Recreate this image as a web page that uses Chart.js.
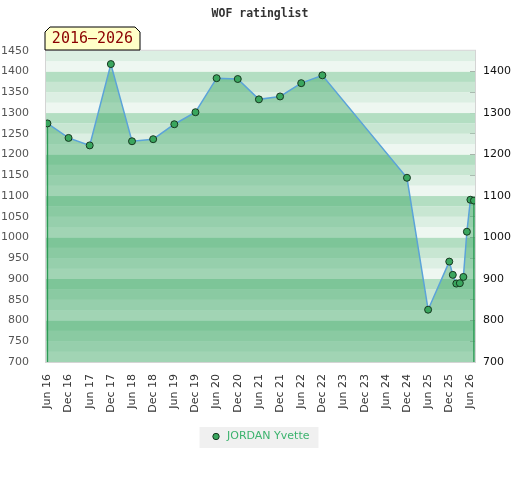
<!DOCTYPE html>
<html>
<head>
<meta charset="utf-8">
<title>WOF ratinglist</title>
<script src="https://cdn.jsdelivr.net/npm/chart.js@4.4.1/dist/chart.umd.min.js"></script>
<style>
  body { margin: 0; background: #fff; }
  canvas { display: block; }
</style>
</head>
<body>
<canvas id="ratingChart" width="520" height="480"></canvas>
<script>
// chart data
const chartTitle = "WOF ratinglist";
const periodLabel = "2016–2026";
const playerName = "JORDAN Yvette";

// x ticks, one every 6 months starting Jun 2016
const tickLabels = ["Jun 16", "Dec 16", "Jun 17", "Dec 17", "Jun 18", "Dec 18", "Jun 19",
  "Dec 19", "Jun 20", "Dec 20", "Jun 21", "Dec 21", "Jun 22", "Dec 22", "Jun 23",
  "Dec 23", "Jun 24", "Dec 24", "Jun 25", "Dec 25", "Jun 26"];

// months since Jun 2016 of every rating list
const months = [0, 6, 12, 18, 24, 30, 36, 42, 48, 54, 60, 66, 72, 78,
  102, 108, 114, 115, 116, 117, 118, 119, 120, 121];
const ratings = [1275, 1240, 1222, 1418, 1232, 1237, 1273, 1302, 1384, 1382, 1333, 1340, 1372, 1391,
  1144, 826, 942, 910, 889, 890, 905, 1014, 1091, 1089];

const leftTicks = [700, 750, 800, 850, 900, 950, 1000, 1050, 1100, 1150, 1200, 1250, 1300, 1350, 1400, 1450];
const rightTicks = [700, 750, 800, 850, 900, 950, 1000, 1050, 1100, 1150, 1200, 1250, 1300, 1350, 1400];

const points = months.map(function (m, i) { return { x: m, y: ratings[i] }; });

const bandColors = ["#eef7f1", "#dcefe3", "#c8e6d2", "#b3dec2"];

// striped green background of the plot
const bandsPlugin = {
  id: "bands",
  beforeDatasetsDraw: function (chart) {
    var ctx = chart.ctx, area = chart.chartArea, ys = chart.scales.y;
    ctx.save();
    for (var v = ys.min; v < ys.max; v += 25) {
      var top = ys.getPixelForValue(v + 25), bottom = ys.getPixelForValue(v);
      ctx.fillStyle = bandColors[((v % 100) / 25) | 0];
      ctx.fillRect(area.left, top, area.right - area.left, bottom - top);
    }
    // edges of the filled area
    var meta = chart.getDatasetMeta(0);
    var first = meta.data[0], last = meta.data[meta.data.length - 1];
    ctx.strokeStyle = "#2e9a55";
    ctx.lineWidth = 1.5;
    ctx.beginPath();
    ctx.moveTo(first.x, first.y);
    ctx.lineTo(first.x, area.bottom);
    ctx.moveTo(last.x, last.y);
    ctx.lineTo(last.x, area.bottom);
    ctx.stroke();
    ctx.restore();
  },
  afterDatasetsDraw: function (chart) {
    var ctx = chart.ctx, area = chart.chartArea;
    ctx.save();
    ctx.strokeStyle = "#d4d4d4";
    ctx.lineWidth = 1;
    ctx.strokeRect(area.left - 0.5, area.top - 0.5, area.right - area.left + 1, area.bottom - area.top + 1);
    ctx.restore();
  }
};

// yellow period tag and grey legend backdrop
const decorPlugin = {
  id: "decor",
  beforeDraw: function (chart) {
    var boxes = chart.legend && chart.legend.legendHitBoxes;
    if (!boxes || !boxes.length) return;
    var b = boxes[0], ctx = chart.ctx;
    ctx.save();
    ctx.fillStyle = "#f0f0f0";
    ctx.fillRect(b.left - 11, b.top - 4, b.width + 20, 21);
    ctx.restore();
  },
  afterDraw: function (chart) {
    var ctx = chart.ctx, area = chart.chartArea;
    var x = area.left - 1, y = 27, w = 95, h = 23, c = 5;
    ctx.save();
    ctx.beginPath();
    ctx.moveTo(x, y + h);
    ctx.lineTo(x, y + c);
    ctx.lineTo(x + c, y);
    ctx.lineTo(x + w - c, y);
    ctx.lineTo(x + w, y + c);
    ctx.lineTo(x + w, y + h);
    ctx.closePath();
    ctx.fillStyle = "#ffffc8";
    ctx.fill();
    ctx.strokeStyle = "#000";
    ctx.lineWidth = 1;
    ctx.stroke();
    ctx.fillStyle = "#8b0000";
    ctx.font = "15px 'DejaVu Sans Mono'";
    ctx.textAlign = "center";
    ctx.textBaseline = "middle";
    ctx.fillText(periodLabel, x + w / 2, y + h / 2 + 1);
    ctx.restore();
  }
};

var ctx = document.getElementById("ratingChart").getContext("2d");
var chart = new Chart(ctx, {
  type: "line",
  data: {
    datasets: [
      {
        label: playerName,
        data: points,
        borderColor: "#5ba3d9",
        borderWidth: 1.5,
        backgroundColor: "rgba(46,160,90,0.4)",
        fill: "start",
        tension: 0,
        pointRadius: 3.5,
        pointHoverRadius: 4,
        pointBackgroundColor: "#3aa65e",
        pointBorderColor: "#163820",
        pointBorderWidth: 1,
        pointStyle: "circle",
        yAxisID: "y",
      },
    ],
  },
  options: {
    responsive: false,
    animation: false,
    layout: { padding: { left: 0, right: 0, top: 0, bottom: 28 } },
    plugins: {
      title: {
        display: true,
        text: chartTitle,
        color: "#333",
        font: { family: "'DejaVu Sans Mono'", size: 11.5, weight: "bold" },
        padding: { top: 7, bottom: 30 },
      },
      legend: {
        position: "bottom",
        labels: {
          usePointStyle: true,
          boxWidth: 11,
          boxHeight: 4.5,
          color: "#3cb36e",
          font: { family: "'DejaVu Sans'", size: 11 },
          padding: 10,
        },
      },
      tooltip: { enabled: false },
    },
    scales: {
      x: {
        type: "linear",
        min: -0.4,
        max: 121.3,
        afterBuildTicks: function (s) {
          s.ticks = tickLabels.map(function (_, i) { return { value: i * 6 }; });
        },
        afterFit: function (s) { s.height = 59; },
        ticks: {
          autoSkip: false,
          maxRotation: 90,
          minRotation: 90,
          color: "#333",
          font: { family: "'DejaVu Sans'", size: 11 },
          padding: 4,
          callback: function (v) { return tickLabels[Math.round(v / 6)]; },
        },
        grid: { display: false },
        border: { display: false },
      },
      y: {
        position: "left",
        min: 700,
        max: 1450,
        afterBuildTicks: function (s) {
          s.ticks = leftTicks.map(function (v) { return { value: v }; });
        },
        afterFit: function (s) { s.width = 46; },
        ticks: {
          color: "#555",
          font: { family: "'DejaVu Sans'", size: 11 },
          padding: 9,
          callback: function (v) { return String(v); },
        },
        grid: { display: false },
        border: { display: false },
      },
      y1: {
        position: "right",
        min: 700,
        max: 1450,
        z: 1,
        afterBuildTicks: function (s) {
          s.ticks = rightTicks.map(function (v) { return { value: v }; });
        },
        afterFit: function (s) { s.width = 45; },
        ticks: {
          color: "#111",
          font: { family: "'DejaVu Sans'", size: 11 },
          padding: 13,
          callback: function (v) { return v % 100 === 0 ? String(v) : ""; },
        },
        grid: {
          drawOnChartArea: false,
          drawTicks: true,
          tickLength: -5,
          tickColor: "#000",
          color: "#000",
        },
        border: { display: false },
      },
    },
  },
  plugins: [bandsPlugin, decorPlugin],
});
</script>
</body>
</html>
